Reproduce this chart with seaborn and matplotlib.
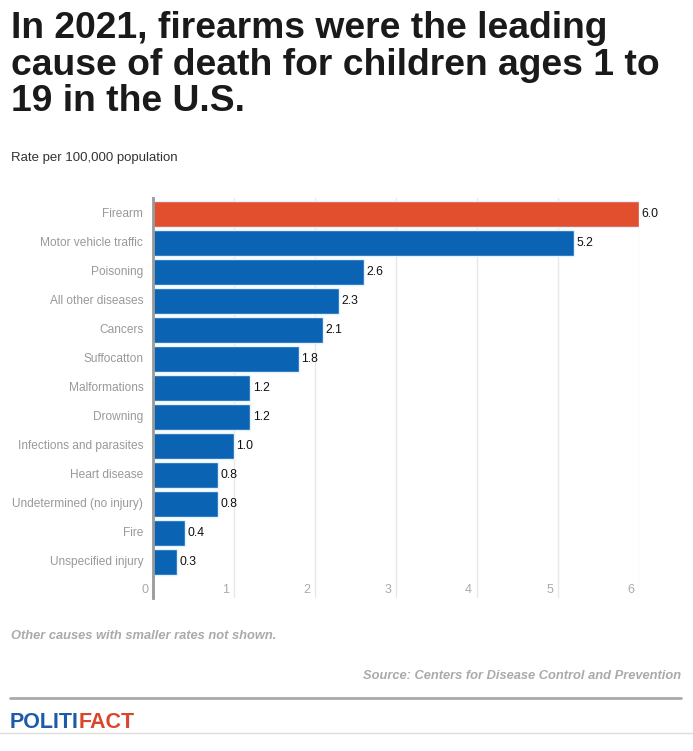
import matplotlib
matplotlib.use("Agg")
import matplotlib.pyplot as plt
import pandas as pd
import seaborn as sns

# --- Data ---
causes = [
    "Firearm", "Motor vehicle traffic", "Poisoning", "All other diseases",
    "Cancers", "Suffocatton", "Malformations", "Drowning",
    "Infections and parasites", "Heart disease", "Undetermined (no injury)",
    "Fire", "Unspecified injury",
]
rates = [6.0, 5.2, 2.6, 2.3, 2.1, 1.8, 1.2, 1.2, 1.0, 0.8, 0.8, 0.4, 0.3]
highlight = ["Firearm"]
x_ticks = [0, 1, 2, 3, 4, 5, 6]

BLUE = "#0b63b4"
RED = "#e24f2f"
GRAY = "#999999"

df = pd.DataFrame({"cause": causes, "rate": rates})
df["group"] = ["hi" if c in highlight else "lo" for c in causes]

sns.set_style("white")
plt.rcParams["font.family"] = ["Liberation Sans", "DejaVu Sans"]

W, H = 693, 751
fig = plt.figure(figsize=(W / 100, H / 100), dpi=100)

# axes placed in pixel terms
ax_left, ax_right, ax_top, ax_bottom = 153, 639, 198, 598
ax = fig.add_axes([ax_left / W, 1 - ax_bottom / H,
                   (ax_right - ax_left) / W, (ax_bottom - ax_top) / H])

sns.barplot(
    data=df, x="rate", y="cause", hue="group", order=causes,
    palette={"hi": RED, "lo": BLUE}, width=0.9, dodge=False, saturation=1,
    edgecolor="#e3f2fd", linewidth=1, legend=False, ax=ax,
)

ax.set_xlim(0, 6)
ax.set_ylim(13.24, -0.55)
ax.set_xlabel("")
ax.set_ylabel("")
ax.set_xticks([])
ax.set_yticks([])
for s in ["top", "right", "bottom"]:
    ax.spines[s].set_visible(False)
ax.spines["left"].set_color(GRAY)
ax.spines["left"].set_linewidth(2)
ax.spines["left"].set_zorder(5)

# vertical gridlines
for t in x_ticks[1:]:
    ax.axvline(t, color="#e8e8e8", linewidth=1, zorder=0)

# category labels
for i, c in enumerate(causes):
    ax.text(-0.12, i, c, ha="right", va="center", fontsize=8.6, color=GRAY)

# value labels
for i, v in enumerate(rates):
    ax.text(v + 0.03, i, f"{v:.1f}", ha="left", va="center",
            fontsize=8.8, color="#111111", clip_on=False)

# x tick labels drawn inside the bottom slot
for t in x_ticks:
    ax.text(t - 0.06, 12.97, str(t), ha="right", va="center",
            fontsize=9, color="#aaaaaa")

# --- Titles and notes ---
fig.text(11 / W, 1 - 11 / H,
         "In 2021, firearms were the leading\ncause of death for children ages 1 to\n19 in the U.S.",
         ha="left", va="top", fontsize=26.8, fontweight="bold", color="#1a1a1a",
         linespacing=1.06)
fig.text(11 / W, 1 - 158 / H, "Rate per 100,000 population",
         ha="left", va="center", fontsize=9.5, color="#333333")

fig.text(11 / W, 1 - 636 / H, "Other causes with smaller rates not shown.",
         ha="left", va="center", fontsize=9.3, style="italic",
         fontweight="bold", color="#aaaaaa")
fig.text(681 / W, 1 - 676 / H, "Source: Centers for Disease Control and Prevention",
         ha="right", va="center", fontsize=9.3, style="italic",
         fontweight="bold", color="#aaaaaa")

fig.add_artist(plt.Line2D([10 / W, 681 / W], [1 - 698 / H, 1 - 698 / H],
                          color="#aaaaaa", linewidth=2))
fig.add_artist(plt.Line2D([0, 1], [1 - 733 / H, 1 - 733 / H],
                          color="#dddddd", linewidth=1))

# logo text
logo = fig.text(10 / W, 1 - 722 / H, "POLITI", ha="left", va="center",
                fontsize=15.5, fontweight="bold", color="#1d5aa8")
fig.canvas.draw()
bb = logo.get_window_extent()
fig.text(bb.x1 / W, 1 - 722 / H, "FACT", ha="left", va="center",
         fontsize=15.5, fontweight="bold", color="#d9472b")

fig.savefig("out.png", dpi=100)
